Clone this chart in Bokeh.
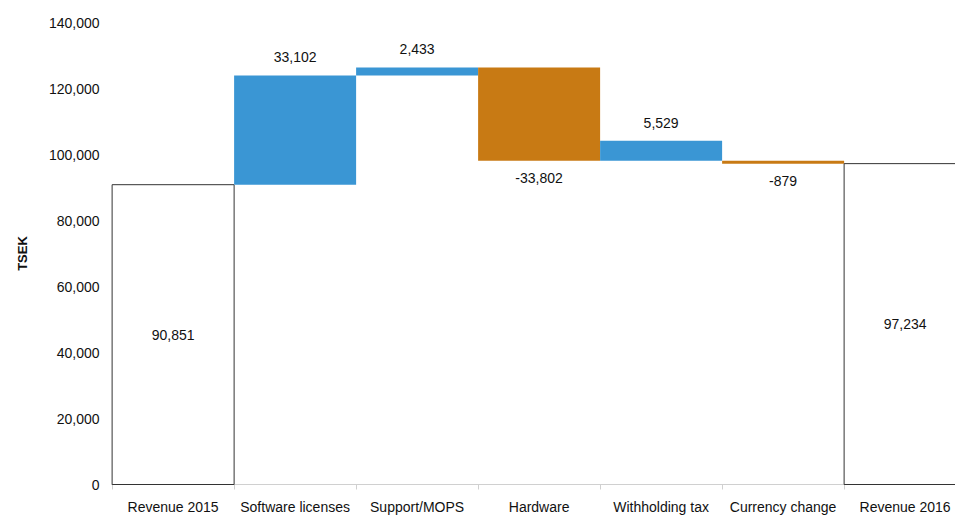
from bokeh.plotting import figure
from bokeh.models import Range1d, FixedTicker, NumeralTickFormatter, ColumnDataSource
from bokeh.core.properties import value
from bokeh.embed import file_html
from bokeh.resources import INLINE

# ---- data ----
categories = ["Revenue 2015", "Software licenses", "Support/MOPS", "Hardware",
              "Withholding tax", "Currency change", "Revenue 2016"]
label_values = [90851, 33102, 2433, -33802, 5529, -879, 97234]
bar_start = [0, 90851, 123953, 126386, 98113, 98113, 0]
bar_end = [90851, 123953, 126386, 98113, 104200, 97234, 97234]
kind = ["total", "up", "up", "down", "up", "down", "total"]
y_ticks = [0, 20000, 40000, 60000, 80000, 100000, 120000, 140000]

FONT = "Liberation Sans"
colors = {"total": "white", "up": "#3a96d4", "down": "#c87a14"}

n = len(categories)
left = list(range(n))
right = [i + 1 for i in left]
centers = [i + 0.5 for i in left]
bottoms = [min(a, b) for a, b in zip(bar_start, bar_end)]
tops = [max(a, b) for a, b in zip(bar_start, bar_end)]
fills = [colors[k] for k in kind]
lines = ["#333333" if k == "total" else None for k in kind]
texts = [f"{v:,}" for v in label_values]

p = figure(width=955, height=517, output_backend="svg", toolbar_location=None,
           x_range=Range1d(-0.005, 6.913), y_range=Range1d(0, 140000),
           min_border_left=111, min_border_right=0, min_border_top=22,
           min_border_bottom=32)
p.outline_line_color = None
p.xgrid.visible = False
p.ygrid.visible = False
p.background_fill_color = "white"

src = ColumnDataSource(dict(left=left, right=right, bottom=bottoms, top=tops,
                            fill=fills, line=lines))
p.quad(left="left", right="right", bottom="bottom", top="top", source=src,
       fill_color="fill", line_color="line", line_width=1, level="annotation")

def add_labels(idx, ypos, baseline, offset):
    if not idx:
        return
    p.text(x=[centers[i] for i in idx], y=[ypos[i] for i in idx],
           text=[texts[i] for i in idx], text_align="center",
           text_baseline=baseline, y_offset=offset, level="annotation",
           text_font=value(FONT), text_font_size="14px", text_color="#111111")

mids = [(b + t) / 2 for b, t in zip(bottoms, tops)]
add_labels([i for i, k in enumerate(kind) if k == "total"], mids, "middle", 0)
add_labels([i for i, k in enumerate(kind) if k == "up"], tops, "middle", -18)
add_labels([i for i, k in enumerate(kind) if k == "down"], bottoms, "middle", 17)

# x axis
xa = p.xaxis[0]
xa.ticker = FixedTicker(ticks=centers, minor_ticks=list(range(n + 1)))
xa.major_label_overrides = {c: cat for c, cat in zip(centers, categories)}
xa.major_tick_line_color = None
xa.major_tick_out = 0
xa.major_tick_in = 0
xa.minor_tick_line_color = "#d0d0d0"
xa.minor_tick_out = 5
xa.minor_tick_in = 0
xa.axis_line_color = "#d0d0d0"
xa.major_label_standoff = 9
xa.major_label_text_font = FONT
xa.major_label_text_font_size = "14px"
xa.major_label_text_color = "#111111"

# y axis
ya = p.yaxis[0]
ya.ticker = FixedTicker(ticks=y_ticks)
ya.formatter = NumeralTickFormatter(format="0,0")
ya.axis_line_color = None
ya.major_tick_line_color = None
ya.major_tick_out = 0
ya.major_tick_in = 0
ya.minor_tick_line_color = None
ya.major_label_standoff = 12
ya.major_label_text_font = FONT
ya.major_label_text_font_size = "14px"
ya.major_label_text_color = "#111111"
ya.axis_label = "TSEK"
ya.axis_label_text_font = FONT
ya.axis_label_text_font_style = "bold"
ya.axis_label_text_font_size = "13px"
ya.axis_label_text_color = "#111111"
ya.axis_label_standoff = 16

open("out.html", "w").write(file_html(p, INLINE))
